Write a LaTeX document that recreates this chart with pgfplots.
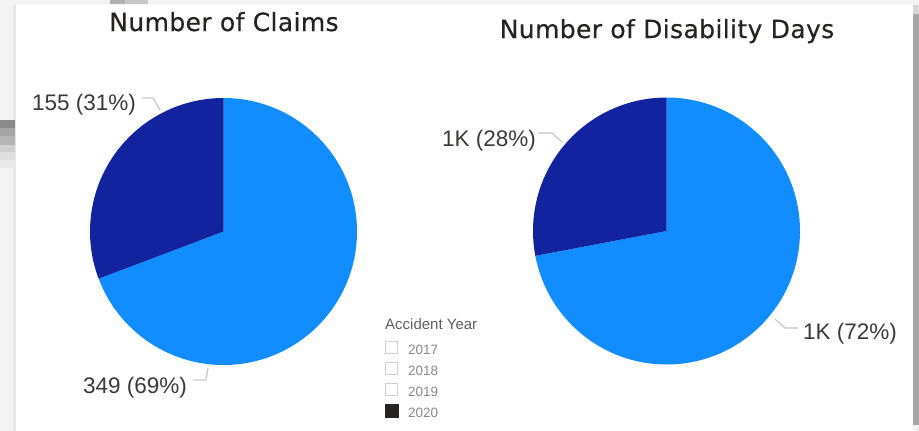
\documentclass[border=0pt]{standalone}
\usepackage{pgfplots}
\usepackage{pgfplotstable}
\pgfplotsset{compat=1.18}
\usepackage{fontspec}
\setmainfont{Liberation Sans}
\newfontfamily\titlefont[LetterSpace=1.5,FakeBold=0.5]{DejaVu Sans}
\definecolor{lb}{HTML}{118DFF}
\definecolor{db}{HTML}{12239E}
\definecolor{ttl}{HTML}{252423}
\definecolor{lbl}{HTML}{3B3A39}
\definecolor{leader}{HTML}{C8C6C4}
\definecolor{legt}{HTML}{605E5C}
\definecolor{legi}{HTML}{8A8886}
\definecolor{bg}{HTML}{F3F3F3}
\definecolor{g1}{HTML}{E6E6E6}
\definecolor{g2}{HTML}{A6A6A6}
\definecolor{g3}{HTML}{D6D6D6}
\definecolor{s1}{HTML}{8A8A8A}
\definecolor{s2}{HTML}{A5A5A5}
\definecolor{s3}{HTML}{B5B5B5}
\definecolor{s4}{HTML}{CFCFCF}
\definecolor{s5}{HTML}{DEDEDE}
\definecolor{s6}{HTML}{E8E8E8}
\definecolor{t1}{HTML}{B0B0B0}
\definecolor{t2}{HTML}{C8C8C8}
\definecolor{box}{HTML}{CFCFCF}

\pgfplotstableread{
slice value
y2020a 349
y2020b 155
}\claims
\pgfplotstableread{
slice value
y2020a 1390
y2020b 540
}\days

\begin{document}
\begin{tikzpicture}
\pgfplotstablegetelem{0}{value}\of\claims \edef\cA{\pgfplotsretval}
\pgfplotstablegetelem{1}{value}\of\claims \edef\cB{\pgfplotsretval}
\pgfplotstablegetelem{0}{value}\of\days \edef\dA{\pgfplotsretval}
\pgfplotstablegetelem{1}{value}\of\days \edef\dB{\pgfplotsretval}
\pgfmathsetmacro\angA{360*(\cA/(\cA+\cB))}
\pgfmathsetmacro\angB{360*(\dA/(\dA+\dB))}
\begin{axis}[
  scale only axis, width=919pt, height=431pt,
  xmin=0, xmax=919, ymin=0, ymax=431, y dir=reverse,
  hide axis, clip=false, anchor=south west, at={(0,0)},
]
% background
\fill[bg] (axis cs:0,0) rectangle (axis cs:919,431);
\fill[white] (axis cs:16,5) rectangle (axis cs:913,431);
\fill[g1] (axis cs:13,5) rectangle (axis cs:16,431);
\fill[g2] (axis cs:913,14) rectangle (axis cs:919,425);
\fill[g3] (axis cs:913,5) rectangle (axis cs:919,14);
\fill[s1] (axis cs:0,120) rectangle (axis cs:15,128);
\fill[s2] (axis cs:0,128) rectangle (axis cs:15,136);
\fill[s3] (axis cs:0,136) rectangle (axis cs:15,145);
\fill[s4] (axis cs:0,145) rectangle (axis cs:15,152);
\fill[s5] (axis cs:0,152) rectangle (axis cs:15,160);
\fill[s6] (axis cs:0,160) rectangle (axis cs:15,168);
\fill[t1] (axis cs:110,0) rectangle (axis cs:125,4);
\fill[t2] (axis cs:125,0) rectangle (axis cs:148,4);

% pie 1
\fill[lb] (axis cs:223.5,231.5) -- ++(90:133.5pt) arc[start angle=90, end angle={90-\angA}, radius=133.5pt] -- cycle;
\fill[db] (axis cs:223.5,231.5) -- ++({90-\angA}:133.5pt) arc[start angle={90-\angA}, end angle=-270, radius=133.5pt] -- cycle;
% pie 2
\fill[lb] (axis cs:666.5,231) -- ++(90:133.5pt) arc[start angle=90, end angle={90-\angB}, radius=133.5pt] -- cycle;
\fill[db] (axis cs:666.5,231) -- ++({90-\angB}:133.5pt) arc[start angle={90-\angB}, end angle=-270, radius=133.5pt] -- cycle;

% leaders
\draw[leader, line width=1.2pt] (axis cs:142,98) -- (axis cs:153,98) -- (axis cs:160,110);
\draw[leader, line width=1.2pt] (axis cs:193,380) -- (axis cs:206,380) -- (axis cs:208,368);
\draw[leader, line width=1.2pt] (axis cs:538,133) -- (axis cs:552,133) -- (axis cs:562,142);
\draw[leader, line width=1.2pt] (axis cs:775,319) -- (axis cs:785,328) -- (axis cs:798,328);

% titles
\node[anchor=base, inner sep=0, text=ttl, font=\titlefont\fontsize{25}{29}\selectfont] at (axis cs:224,31) {Number of Claims};
\node[anchor=base, inner sep=0, text=ttl, font=\titlefont\fontsize{25}{29}\selectfont] at (axis cs:667,38) {Number of Disability Days};

% labels
\node[anchor=base west, inner sep=0, text=lbl, font=\fontsize{22.5}{26}\selectfont] at (axis cs:32,110) {155 (31\%)};
\node[anchor=base west, inner sep=0, text=lbl, font=\fontsize{22.5}{26}\selectfont] at (axis cs:83,393) {349 (69\%)};
\node[anchor=base west, inner sep=0, text=lbl, font=\fontsize{22.5}{26}\selectfont] at (axis cs:442,146) {1K (28\%)};
\node[anchor=base west, inner sep=0, text=lbl, font=\fontsize{22.5}{26}\selectfont] at (axis cs:803,339) {1K (72\%)};

% legend
\node[anchor=base west, inner sep=0, text=legt, font=\fontsize{15}{18}\selectfont] at (axis cs:385,329) {Accident Year};
\draw[box, line width=1.2pt] (axis cs:385.5,341.5) rectangle (axis cs:397.5,353.5);
\draw[box, line width=1.2pt] (axis cs:385.5,362.5) rectangle (axis cs:397.5,374.5);
\draw[box, line width=1.2pt] (axis cs:385.5,383.5) rectangle (axis cs:397.5,395.5);
\fill[ttl] (axis cs:384.5,404) rectangle (axis cs:398.5,418);
\node[anchor=base west, inner sep=0, text=legi, font=\fontsize{13.5}{16}\selectfont] at (axis cs:408,354) {2017};
\node[anchor=base west, inner sep=0, text=legi, font=\fontsize{13.5}{16}\selectfont] at (axis cs:408,375) {2018};
\node[anchor=base west, inner sep=0, text=legi, font=\fontsize{13.5}{16}\selectfont] at (axis cs:408,396) {2019};
\node[anchor=base west, inner sep=0, text=legi, font=\fontsize{13.5}{16}\selectfont] at (axis cs:408,417) {2020};
\end{axis}
\end{tikzpicture}
\end{document}
